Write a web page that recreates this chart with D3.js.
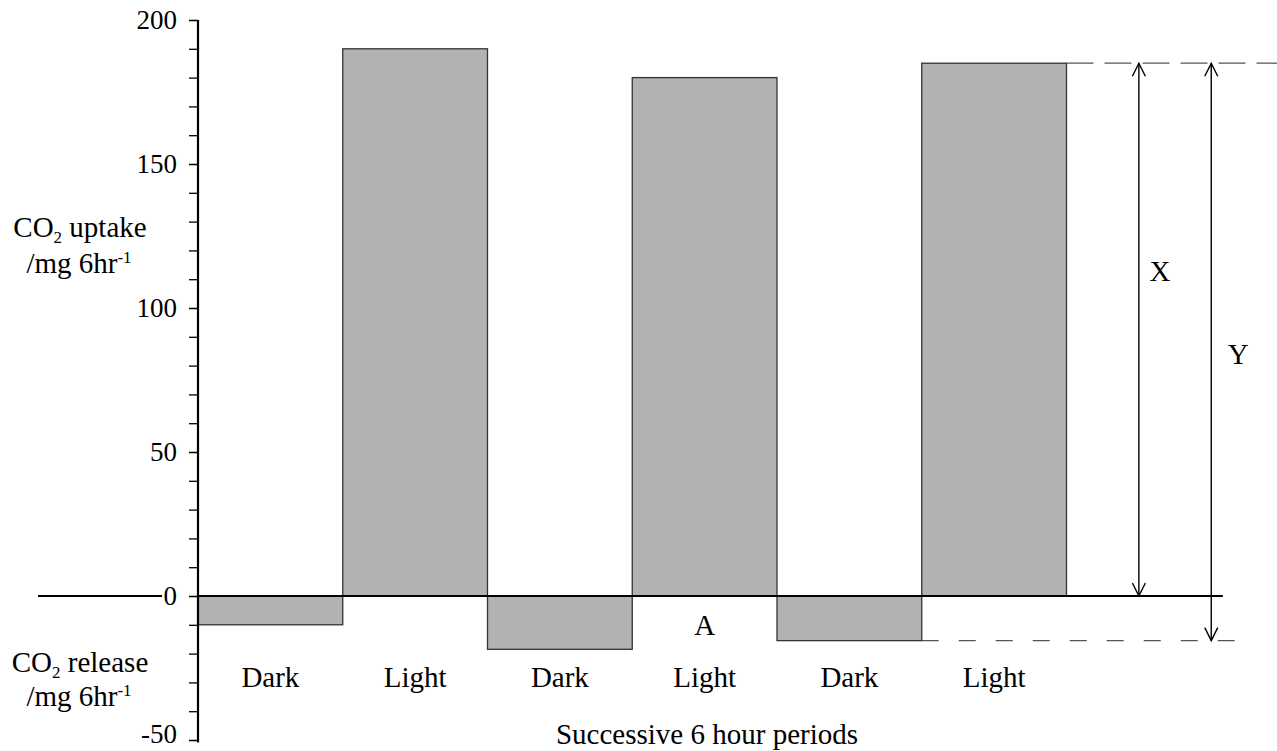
<!DOCTYPE html>
<html>
<head>
<meta charset="utf-8">
<script src="https://cdn.jsdelivr.net/npm/d3@7"></script>
<style>
  html, body { margin: 0; padding: 0; background: #fff; }
  svg { display: block; }
  text { font-family: "Liberation Serif", "Times New Roman", serif; fill: #000; }
</style>
</head>
<body>
<svg id="chart" width="1277" height="751"></svg>
<script>
// ---- data ----
const periods = ["Dark", "Light", "Dark", "Light", "Dark", "Light"];
const values = [-10, 190, -18.5, 180, -15.5, 185];
const yMajorTicks = [-50, 0, 50, 100, 150, 200];
const yMinorTicks = d3.range(-50, 201, 10);
const xAxisTitle = "Successive 6 hour periods";
const pointLabel = "A";
const arrowLabels = ["X", "Y"];

// ---- scales ----
const svg = d3.select("#chart");
const x = d3.scaleLinear().domain([0, periods.length]).range([198, 1066.5]);
const y = d3.scaleLinear().domain([-50, 200]).range([740, 20]);
const FS = 29;
const TFS = 27;

// ---- bars ----
svg.append("g").selectAll("rect")
  .data(values)
  .join("rect")
  .attr("x", (d, i) => x(i))
  .attr("width", (d, i) => x(i + 1) - x(i))
  .attr("y", d => y(Math.max(0, d)))
  .attr("height", d => Math.abs(y(d) - y(0)))
  .attr("fill", "#b2b2b2")
  .attr("stroke", "#333")
  .attr("stroke-width", 1.3);

// ---- y axis ----
const minorAxis = d3.axisLeft(y).tickValues(yMinorTicks).tickSize(9).tickFormat("").tickSizeOuter(0);
const gMinor = svg.append("g").attr("transform", `translate(${x(0)},0)`).call(minorAxis);
gMinor.select(".domain").remove();
gMinor.selectAll(".tick line").attr("stroke", "#000").attr("stroke-width", 1.3);

const majorAxis = d3.axisLeft(y).tickValues(yMajorTicks).tickSize(9).tickPadding(12)
  .tickSizeOuter(0).tickFormat(d => String(d));
const gMajor = svg.append("g").attr("transform", `translate(${x(0)},0)`).call(majorAxis);
gMajor.attr("font-family", '"Liberation Serif", serif');
gMajor.select(".domain").attr("stroke", "#000").attr("stroke-width", 2.2)
  .attr("d", `M0,${y(200)}V${y(-50) + 2.5}`);
gMajor.selectAll(".tick line").attr("stroke", "#000").attr("stroke-width", 1.3);
gMajor.selectAll(".tick text")
  .style("font-family", '"Liberation Serif", serif')
  .style("font-size", TFS + "px")
  .attr("fill", "#000")
  .attr("dy", d => d === -50 ? "0.1em" : "0.32em");

// ---- zero line ----
svg.append("line")
  .attr("x1", 38).attr("x2", 162)
  .attr("y1", y(0)).attr("y2", y(0))
  .attr("stroke", "#000").attr("stroke-width", 2.2);
svg.append("line")
  .attr("x1", x(0)).attr("x2", x(7.08))
  .attr("y1", y(0)).attr("y2", y(0))
  .attr("stroke", "#000").attr("stroke-width", 2.2);

// ---- dashed guide lines ----
svg.append("line")
  .attr("x1", x(6)).attr("x2", 1277)
  .attr("y1", y(values[5])).attr("y2", y(values[5]))
  .attr("stroke", "#555").attr("stroke-width", 1.3)
  .attr("stroke-dasharray", "27 11");
svg.append("line")
  .attr("x1", x(5)).attr("x2", x(7.24))
  .attr("y1", y(values[4])).attr("y2", y(values[4]))
  .attr("stroke", "#555").attr("stroke-width", 1.3)
  .attr("stroke-dasharray", "17 20");

// ---- double-headed arrows ----
function arrow(xp, yTop, yBot) {
  const g = svg.append("g").attr("stroke", "#000").attr("stroke-width", 1.4).attr("fill", "none");
  g.append("line").attr("x1", xp).attr("x2", xp).attr("y1", yTop).attr("y2", yBot);
  g.append("path").attr("d", `M${xp - 6.5},${yTop + 13}L${xp},${yTop}L${xp + 6.5},${yTop + 13}`);
  g.append("path").attr("d", `M${xp - 6.5},${yBot - 13}L${xp},${yBot}L${xp + 6.5},${yBot - 13}`);
}
arrow(x(6.5), y(values[5]), y(0));
arrow(x(7), y(values[5]), y(values[4]));

svg.append("text").attr("x", x(6.5) + 21).attr("y", 281)
  .attr("text-anchor", "middle").style("font-size", FS + "px").text(arrowLabels[0]);
svg.append("text").attr("x", x(7) + 27).attr("y", 364)
  .attr("text-anchor", "middle").style("font-size", FS + "px").text(arrowLabels[1]);

// ---- period labels ----
svg.append("g").selectAll("text")
  .data(periods)
  .join("text")
  .attr("x", (d, i) => x(i + 0.5))
  .attr("y", 687)
  .attr("text-anchor", "middle")
  .style("font-size", FS + "px")
  .text(d => d);

svg.append("text").attr("x", x(3.5)).attr("y", 635)
  .attr("text-anchor", "middle").style("font-size", FS + "px").text(pointLabel);

svg.append("text").attr("x", 707).attr("y", 744)
  .attr("text-anchor", "middle").style("font-size", FS + "px").text(xAxisTitle);

// ---- y axis titles ----
function coLabel(yBase, word) {
  const t = svg.append("text").attr("x", 80).attr("y", yBase)
    .attr("text-anchor", "middle").style("font-size", FS + "px");
  t.append("tspan").text("CO");
  t.append("tspan").attr("dy", 6).style("font-size", "17px").text("2");
  t.append("tspan").attr("dy", -6).text("\u00a0" + word);
}
function unitLabel(yBase) {
  const t = svg.append("text").attr("x", 79).attr("y", yBase)
    .attr("text-anchor", "middle").style("font-size", FS + "px");
  t.append("tspan").text("/mg 6hr");
  t.append("tspan").attr("dy", -10).style("font-size", "17px").text("-1");
}
coLabel(237, "uptake");
unitLabel(273);
coLabel(672, "release");
unitLabel(706);
</script>
</body>
</html>
